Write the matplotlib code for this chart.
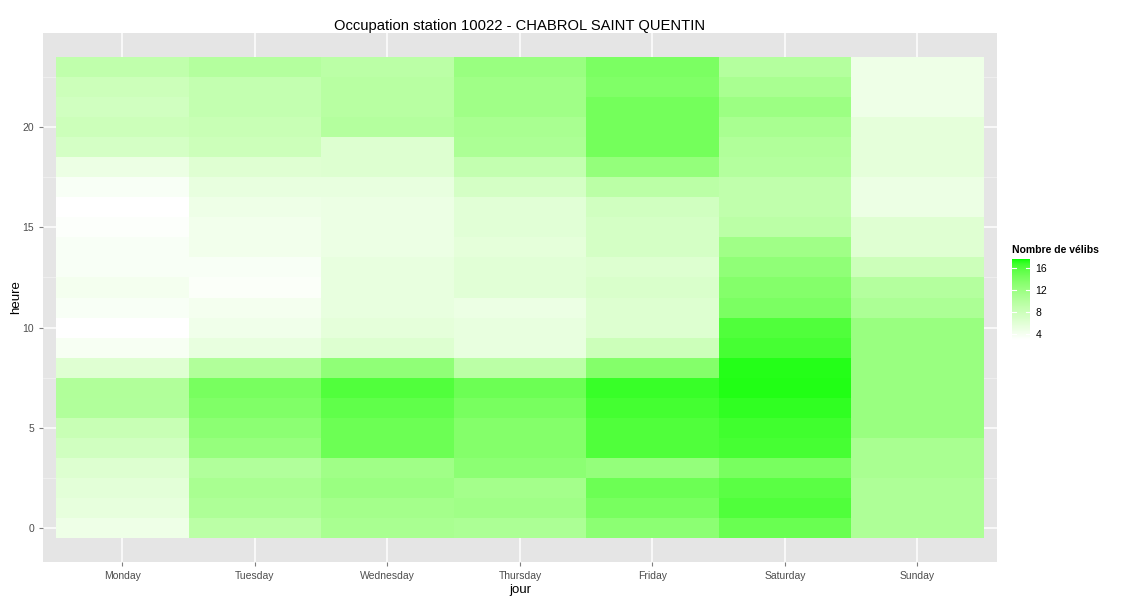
import numpy as np
import matplotlib
matplotlib.use("Agg")
import matplotlib.pyplot as plt
from matplotlib.colors import ListedColormap, Normalize

plt.rcParams["font.family"] = ["Liberation Sans", "DejaVu Sans"]

# data: mean number of bikes per weekday / hour
jours = ["Monday", "Tuesday", "Wednesday", "Thursday", "Friday", "Saturday", "Sunday"]
heures = list(range(24))

monday = [4.7, 5.4, 5.8, 6.4, 7.6, 8.3, 10.2, 10.3, 6.2, 3.8, 2.9, 3.6,
          4.1, 3.6, 3.6, 3.2, 2.9, 3.6, 4.9, 7.2, 8.0, 7.6, 8.0, 9.0]
tuesday = [9.4, 10.5, 10.9, 10.2, 12.3, 13.0, 13.7, 14.2, 10.3, 5.3, 4.5, 4.1,
           3.4, 3.6, 4.3, 4.3, 4.7, 5.3, 6.2, 8.0, 8.3, 8.7, 8.7, 10.0]
wednesday = [10.9, 11.3, 12.0, 11.6, 14.8, 14.8, 15.4, 16.0, 12.7, 6.4, 5.6, 5.3,
             5.3, 5.3, 4.9, 4.9, 4.9, 5.3, 6.4, 6.4, 10.0, 9.7, 9.7, 9.4]
thursday = [10.6, 11.6, 11.3, 13.0, 13.5, 13.5, 14.2, 14.8, 9.4, 5.3, 5.3, 4.9,
            6.0, 6.0, 5.6, 6.0, 6.0, 7.2, 8.7, 10.6, 10.9, 11.6, 11.6, 12.1]
friday = [13.0, 14.2, 14.8, 12.4, 16.1, 16.1, 16.5, 16.8, 13.5, 8.0, 6.4, 6.4,
          6.8, 6.4, 7.2, 7.2, 7.6, 9.4, 12.4, 14.4, 14.4, 14.4, 13.7, 14.0]
saturday = [15.0, 16.1, 15.7, 14.2, 16.4, 16.6, 17.0, 17.3, 17.2, 16.4, 16.1, 14.0,
            13.5, 12.7, 11.6, 9.4, 9.0, 9.0, 10.0, 10.3, 10.9, 11.9, 10.9, 10.0]
sunday = [10.5, 10.5, 10.5, 10.9, 10.9, 12.1, 12.1, 12.1, 12.1, 12.1, 12.1, 10.6,
          10.0, 8.0, 6.2, 6.2, 4.9, 4.9, 5.6, 5.6, 5.6, 4.7, 4.7, 4.7]

vmin, vmax = 2.9, 17.6
legend_ticks = [4, 8, 12, 16]

values = np.array([monday, tuesday, wednesday, thursday, friday, saturday, sunday]).T


# white -> green gradient interpolated in Lab, like ggplot's scale_fill_gradient
def lab_to_rgb(L, a, b):
    fy = (L + 16) / 116
    fx = fy + a / 500
    fz = fy - b / 200

    def finv(f):
        return np.where(f > 6 / 29, f ** 3, 3 * (6 / 29) ** 2 * (f - 4 / 29))

    X = 0.95047 * finv(fx)
    Y = finv(fy)
    Z = 1.08883 * finv(fz)
    r = 3.2406 * X - 1.5372 * Y - 0.4986 * Z
    g = -0.9689 * X + 1.8758 * Y + 0.0415 * Z
    bb = 0.0557 * X - 0.2040 * Y + 1.0570 * Z
    rgb = np.stack([r, g, bb], axis=-1).clip(0, 1)
    return np.where(rgb <= 0.0031308, 12.92 * rgb, 1.055 * rgb ** (1 / 2.4) - 0.055).clip(0, 1)


t = np.linspace(0, 1, 256)
lab_white = np.array([100.0, 0.0, 0.0])
lab_green = np.array([87.74, -86.18, 83.18])
lab = lab_white + t[:, None] * (lab_green - lab_white)
cmap = ListedColormap(lab_to_rgb(lab[:, 0], lab[:, 1], lab[:, 2]))
norm = Normalize(vmin=vmin, vmax=vmax)

fig = plt.figure(figsize=(11.25, 6), dpi=100)
ax = fig.add_axes([0.0382, 0.0633, 0.848, 0.8817])
ax.set_facecolor("#E5E5E5")

x_edges = np.arange(len(jours) + 1) + 0.5
y_edges = np.arange(len(heures) + 1) - 0.5
mesh = ax.pcolormesh(x_edges, y_edges, values, cmap=cmap, norm=norm, zorder=2)

ax.set_xlim(0.4, 7.6)
ax.set_ylim(-1.7, 24.7)
ax.set_xticks(range(1, len(jours) + 1))
ax.set_xticklabels(jours)
ax.set_yticks([0, 5, 10, 15, 20])
ax.set_yticks([2.5, 7.5, 12.5, 17.5, 22.5], minor=True)
ax.grid(True, which="major", color="white", linewidth=1.1, zorder=1)
ax.grid(True, which="minor", axis="y", color="#F2F2F2", linewidth=0.5, zorder=1)
ax.set_axisbelow(True)
for s in ax.spines.values():
    s.set_visible(False)
ax.tick_params(which="major", colors="#7F7F7F", labelcolor="#4D4D4D", labelsize=7.5, length=3, width=0.8)
ax.tick_params(which="minor", length=0)

ax.set_xlabel("jour", fontsize=9.5, labelpad=2)
ax.set_ylabel("heure", fontsize=9.5)
ax.yaxis.set_label_coords(-0.022, 0.5)
ax.set_title("Occupation station 10022 - CHABROL SAINT QUENTIN", fontsize=10.6, pad=1.5)

# legend / colourbar
cax = fig.add_axes([0.8996, 0.4333, 0.016, 0.135])
cb = fig.colorbar(mesh, cax=cax, ticks=legend_ticks)
cb.outline.set_visible(False)
cax.tick_params(length=0, labelsize=7.5, colors="black", pad=4)
for tk in legend_ticks:
    cax.plot([0, 0.2], [tk, tk], color="white", lw=0.8, transform=cax.get_yaxis_transform())
    cax.plot([0.8, 1], [tk, tk], color="white", lw=0.8, transform=cax.get_yaxis_transform())
fig.text(0.8996, 0.575, "Nombre de vélibs", fontsize=7.5, fontweight="bold", va="bottom")

fig.savefig("out.png", dpi=100)
